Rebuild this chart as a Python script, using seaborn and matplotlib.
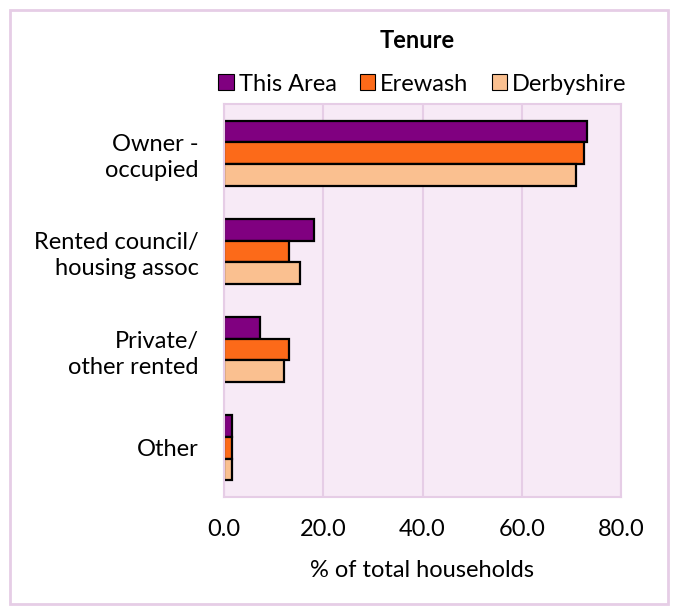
import matplotlib
matplotlib.use("Agg")
import matplotlib.pyplot as plt
from matplotlib.patches import Rectangle
import seaborn as sns
import pandas as pd

categories = ["Owner -\noccupied", "Rented council/\nhousing assoc", "Private/\nother rented", "Other"]
areas = ["This Area", "Erewash", "Derbyshire"]
this_area = [73.1, 18.2, 7.3, 1.6]
erewash = [72.6, 13.0, 13.0, 1.7]
derbyshire = [71.0, 15.3, 12.1, 1.6]
x_ticks = [0, 20, 40, 60, 80]

colors = ["#800080", "#FC6A19", "#FAC090"]
grid_col = "#E6CDE6"

df = pd.DataFrame({
    "tenure": categories * 3,
    "area": [a for a in areas for _ in categories],
    "pct": this_area + erewash + derbyshire,
})

sns.set_style("white")
plt.rcParams["font.family"] = ["Lato", "DejaVu Sans"]
plt.rcParams["text.color"] = "black"
plt.rcParams["axes.labelcolor"] = "black"
plt.rcParams["xtick.labelcolor"] = "black"
plt.rcParams["ytick.labelcolor"] = "black"
fs = 17

fig = plt.figure(figsize=(6.77, 6.12), dpi=100)
ax = fig.add_axes([224 / 677, 1 - 497 / 612, 397 / 677, 393 / 612])

sns.barplot(data=df, y="tenure", x="pct", hue="area", order=categories,
            hue_order=areas, palette=colors, orient="h", width=0.66,
            edgecolor="black", linewidth=1.6, saturation=1, ax=ax, legend=True)

ax.set_facecolor("#F7EAF6")
ax.set_xlim(0, 80)
ax.set_ylim(3.5, -0.5)
ax.set_xticks(x_ticks)
ax.set_xticklabels([f"{v:.1f}" for v in x_ticks], fontsize=fs)
ax.set_yticks(range(len(categories)))
ax.set_yticklabels(categories, fontsize=fs, ha="right", multialignment="right", linespacing=1.3)
ax.set_yticks([-0.5, 0.5, 1.5, 2.5, 3.5], minor=True)
ax.tick_params(axis="y", which="major", length=0, pad=18)
ax.tick_params(axis="y", which="minor", length=6, color=grid_col, width=1.5, direction="out")
ax.tick_params(axis="x", length=6, color=grid_col, width=1.5, direction="out", pad=10)
ax.grid(axis="x", color=grid_col, linewidth=1.5)
ax.set_axisbelow(True)
for s in ax.spines.values():
    s.set_color(grid_col)
    s.set_linewidth(1.5)
ax.set_xlabel("% of total households", fontsize=fs, labelpad=14)
ax.set_ylabel("")

ax.legend(loc="lower center", bbox_to_anchor=(0.5, 1.0), ncol=3, frameon=False,
          fontsize=fs, handlelength=0.65, handleheight=0.65, handletextpad=0.2,
          columnspacing=1.0, borderaxespad=0.0)
for h in ax.get_legend().get_patches():
    h.set_edgecolor("black")
    h.set_linewidth(0.8)

fig.text(417 / 677, 1 - 40 / 612, "Tenure", ha="center", va="center",
         fontsize=fs, fontweight="bold")

fig.patches.append(Rectangle((10 / 677, 1 - 604 / 612), 658 / 677, 594 / 612,
                             transform=fig.transFigure, fill=False,
                             edgecolor="#E6CDE6", linewidth=2))

plt.savefig("out.png", dpi=100)
plt.close()
